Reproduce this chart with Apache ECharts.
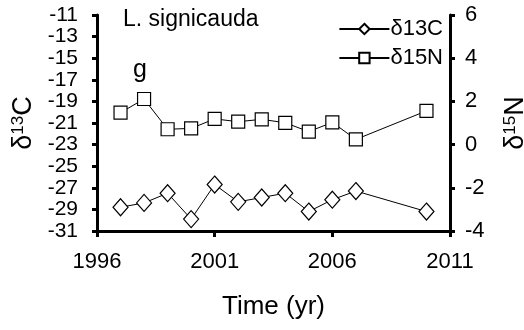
<!DOCTYPE html>
<html><head><meta charset="utf-8">
<script src="https://cdn.jsdelivr.net/npm/echarts@6/dist/echarts.min.js"></script>
<style>html,body{margin:0;padding:0;background:#fff}#c{width:524px;height:330px}</style>
</head><body><div id="c"></div>
<script>
// Data
var years  = [1997, 1998, 1999, 2000, 2001, 2002, 2003, 2004, 2005, 2006, 2007, 2010];
var d13C   = [-28.8, -28.4, -27.5, -29.9, -26.7, -28.3, -27.9, -27.5, -29.2, -28.1, -27.3, -29.2];
var d15N   = [1.48, 2.11, 0.71, 0.75, 1.19, 1.06, 1.17, 1.01, 0.60, 1.03, 0.24, 1.56];
var xTicks = [1996, 2001, 2006, 2011];
var cTicks = [-31, -29, -27, -25, -23, -21, -19, -17, -15, -13, -11];
var nTicks = [-4, -2, 0, 2, 4, 6];
var X0 = xTicks[0], C0 = cTicks[0];

var FONT = 'Liberation Sans, Arial, sans-serif';
var chart = echarts.init(document.getElementById('c'), null, {renderer: 'canvas'});
var axisLine = {show: true, lineStyle: {color: '#000', width: 3}};
var cData = years.map(function (y, i) { return [y - X0, d13C[i] - C0]; });
var nData = years.map(function (y, i) { return [y - X0, d15N[i]]; });

chart.setOption({
  animation: false,
  grid: {left: 97, right: 74, top: 15, bottom: 99, containLabel: false, outerBoundsMode: 'none'},
  legend: {
    orient: 'vertical', right: 76, top: 13, itemWidth: 50, itemHeight: 13, itemGap: 7,
    textStyle: {fontFamily: FONT, fontSize: 22, color: '#000', padding: [0, 0, 0, -4]},
    data: ['δ13C', 'δ15N']
  },
  xAxis: {
    type: 'value', min: 0, max: xTicks[xTicks.length - 1] - X0, interval: 5,
    axisLine: axisLine, splitLine: {show: false},
    axisTick: {show: true, length: 6, lineStyle: {color: '#000', width: 3}},
    axisLabel: {margin: 20, fontFamily: FONT, fontSize: 22, color: '#000', hideOverlap: false,
      showMinLabel: true, showMaxLabel: true,
      formatter: function (v) { return String(v + X0); }},
    name: 'Time (yr)', nameLocation: 'middle', nameGap: 63,
    nameTextStyle: {fontFamily: FONT, fontSize: 26, color: '#000'}
  },
  yAxis: [{
    type: 'value', min: 0, max: cTicks[cTicks.length - 1] - C0, interval: 2, position: 'left',
    axisLine: axisLine, splitLine: {show: false},
    axisTick: {show: true, length: 5, lineStyle: {color: '#000', width: 3}},
    axisLabel: {margin: 19, fontFamily: FONT, fontSize: 21, lineHeight: 18, color: '#000', hideOverlap: false,
      showMinLabel: true, showMaxLabel: true,
      formatter: function (v) { return String(v + C0); }},
    name: '{a|δ}{s|13}{a|C}', nameLocation: 'middle', nameGap: 58, nameRotate: 90,
    nameTextStyle: {fontFamily: FONT, color: '#000', rich: {
      a: {fontFamily: FONT, fontSize: 27, color: '#000'},
      s: {fontFamily: FONT, fontSize: 17, color: '#000', verticalAlign: 'top'}}}
  }, {
    type: 'value', min: nTicks[0], max: nTicks[nTicks.length - 1], interval: 2, position: 'right',
    axisLine: axisLine, splitLine: {show: false},
    axisTick: {show: true, length: 5, lineStyle: {color: '#000', width: 3}},
    axisLabel: {margin: 15, fontFamily: FONT, fontSize: 22, color: '#000', hideOverlap: false,
      showMinLabel: true, showMaxLabel: true},
    name: '{a|δ}{s|15}{a|N}', nameLocation: 'middle', nameGap: 52, nameRotate: 90,
    nameTextStyle: {fontFamily: FONT, color: '#000', rich: {
      a: {fontFamily: FONT, fontSize: 27, color: '#000'},
      s: {fontFamily: FONT, fontSize: 17, color: '#000', verticalAlign: 'top'}}}
  }],
  series: [{
    name: 'δ13C', type: 'line', yAxisIndex: 0, data: cData,
    symbol: 'diamond', symbolSize: [15, 17], showAllSymbol: true,
    lineStyle: {color: '#000', width: 1},
    itemStyle: {color: '#fff', borderColor: '#000', borderWidth: 1.2}
  }, {
    name: 'δ15N', type: 'line', yAxisIndex: 1, data: nData,
    symbol: 'rect', symbolSize: 13, showAllSymbol: true,
    lineStyle: {color: '#000', width: 1},
    itemStyle: {color: '#fff', borderColor: '#000', borderWidth: 1.2}
  }],
  graphic: [
    {type: 'text', left: 123, top: 8, style: {text: 'L. signicauda', font: '23px ' + FONT, fill: '#000'}},
    {type: 'text', left: 133, top: 58, style: {text: 'g', font: '25px ' + FONT, fill: '#000'}}
  ]
});
</script></body></html>
